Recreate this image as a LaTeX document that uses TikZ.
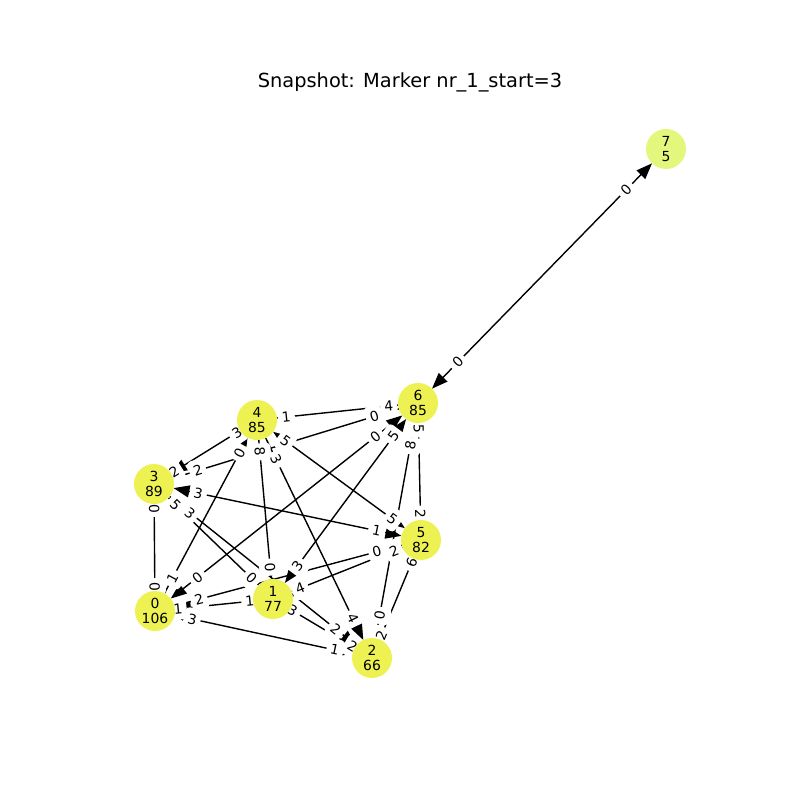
\documentclass[tikz,border=0pt]{standalone}
\usepackage{fontspec}
\setmainfont{DejaVu Sans}
\usetikzlibrary{arrows.meta,calc}
\definecolor{nodeY}{RGB}{237,242,82}
\definecolor{nodeL}{RGB}{228,247,125}
\begin{document}
\begin{tikzpicture}[x=1pt,y=-1pt,
  vtx/.style={circle,fill=nodeY,minimum size=40pt,inner sep=0pt,outer sep=0pt,align=center,font=\fontsize{13.9}{15.5}\selectfont},
  vtxl/.style={vtx,fill=nodeL},
  conn/.style={line width=1.4pt,black},
  tipAt/.style={-{Triangle[length=16pt,width=12pt]}},
  tipFrom/.style={{Triangle[length=16pt,width=12pt]}-},
  tipBoth/.style={{Triangle[length=16pt,width=12pt]}-{Triangle[length=16pt,width=12pt]}},
  tipNone/.style={},
  lbl/.style={fill=white,rounded corners=4pt,inner sep=0pt,minimum width=17pt,minimum height=22pt,sloped,font=\fontsize{13.9}{15}\selectfont}]
\useasboundingbox (0,0) rectangle (800,800);
\node (title) at (410,82) {\fontsize{19.4}{23}\selectfont Snapshot: Marker nr\_1\_start=3};
% node positions
\path (155,611) coordinate (p0) (273,599) coordinate (p1) (372,658) coordinate (p2)
      (154,484) coordinate (p3) (257,420) coordinate (p4) (421,540) coordinate (p5)
      (418,403) coordinate (p6) (666,149) coordinate (p7);
\begin{scope}[opacity=0]
\foreach \i in {0,...,7} \node[vtx] (n\i) at (p\i) {};
\end{scope}
% edges
\foreach \a/\b/\s in {6/7/tipBoth,4/6/tipNone,3/6/tipNone,0/6/tipBoth,1/6/tipBoth,5/6/tipNone,2/6/tipNone,
  3/4/tipFrom,0/4/tipAt,4/1/tipAt,4/2/tipAt,4/5/tipBoth,3/5/tipBoth,3/0/tipNone,3/1/tipNone,3/2/tipAt,
  0/5/tipNone,0/1/tipFrom,0/2/tipBoth,1/5/tipNone,1/2/tipNone,5/2/tipNone}
  \draw[conn,\s] (n\a) -- (n\b);
% edge labels
\foreach \a/\b/\la/\lb in {6/7/0/0,4/6/1/4,3/6/2/0,0/6/0/0,1/6/3/5,5/6/2/5,2/6/0/8,
  3/4/2/3,0/4/1/0,4/1/8/0,4/2/3/4,4/5/5/5,3/5/3/1,3/0/0/0,3/1/5/0,3/2/3/2,
  0/5/2/0,0/1/1/1,0/2/3/1,1/5/4/2,1/2/3/2,5/2/6/2}
  \path ($(p\a)!8.8pt!(p\b)$) -- ($(p\b)!8.8pt!(p\a)$) node[lbl,pos=0.143] {\la} node[lbl,pos=0.857] {\lb};
% visible nodes (on top)
\node[vtx] (v0) at (p0) {0\\106};
\node[vtx] (v1) at (p1) {1\\77};
\node[vtx] (v2) at (p2) {2\\66};
\node[vtx] (v3) at (p3) {3\\89};
\node[vtx] (v4) at (p4) {4\\85};
\node[vtx] (v5) at (p5) {5\\82};
\node[vtx] (v6) at (p6) {6\\85};
\node[vtxl] (v7) at (p7) {7\\5};
\end{tikzpicture}
\end{document}
